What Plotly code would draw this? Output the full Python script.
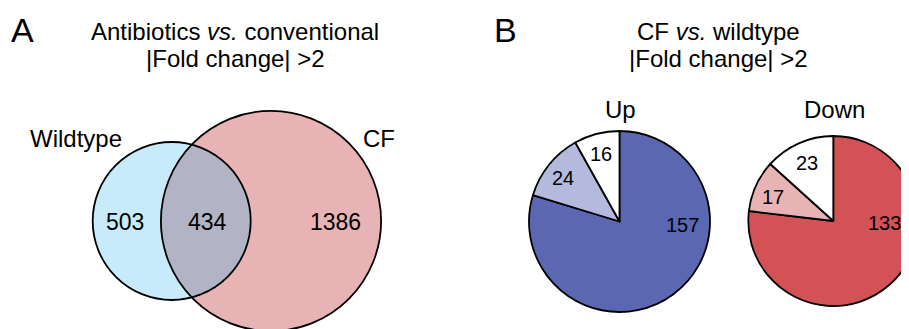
import numpy as np
import plotly.graph_objects as go

# ---------------- data ----------------
venn_sets = ["Wildtype", "CF"]
venn_only = [503, 1386]          # Wildtype only, CF only
venn_both = 434                  # shared

pie_up_labels = ["Up CF only", "Up shared A", "Up shared B"]
pie_up_values = [157, 24, 16]
pie_down_labels = ["Down CF only", "Down shared A", "Down shared B"]
pie_down_values = [133, 17, 23]

up_colors = ["#5b67b1", "#b3badd", "#ffffff"]
down_colors = ["#d35256", "#e8b3b4", "#ffffff"]

# ---------------- canvas ----------------
OFF = 8           # page body margin
W, H = 930, 329 - OFF
FONT = "Liberation Sans, Arial, sans-serif"

def px(x):
    return (x - OFF) / W

def py(y):
    return 1 - (y - OFF) / H

fig = go.Figure()

# invisible pixel-like axes (window pixel coordinates) for Venn and annotations
fig.update_xaxes(range=[OFF, W + OFF], visible=False, fixedrange=True)
fig.update_yaxes(range=[H + OFF, OFF], visible=False, fixedrange=True)
fig.add_trace(go.Scatter(x=[OFF], y=[OFF], mode="markers", marker=dict(opacity=0),
                         showlegend=False, hoverinfo="skip"))

# ---------------- Venn (area proportional) ----------------
tot_wt = venn_only[0] + venn_both
tot_cf = venn_only[1] + venn_both
k = 79 / np.sqrt(tot_wt)
r1 = k * np.sqrt(tot_wt)
r2 = k * np.sqrt(tot_cf)
c1 = (171.7, 221.0)
c2 = (271.0, 221.0)

fig.add_shape(type="circle", xref="x", yref="y",
              x0=c1[0] - r1, x1=c1[0] + r1, y0=c1[1] - r1, y1=c1[1] + r1,
              fillcolor="#c7ebfa", line=dict(width=0))
fig.add_shape(type="circle", xref="x", yref="y",
              x0=c2[0] - r2, x1=c2[0] + r2, y0=c2[1] - r2, y1=c2[1] + r2,
              fillcolor="#e8b3b4", line=dict(width=0))

# lens (intersection) from the two circles
d = c2[0] - c1[0]
a = (d**2 + r1**2 - r2**2) / (2 * d)
h = np.sqrt(r1**2 - a**2)
ang1 = np.arctan2(h, a)
ang2 = np.arctan2(h, d - a)
t1 = np.linspace(-ang1, ang1, 80)
p1x = c1[0] + r1 * np.cos(t1)
p1y = c1[1] + r1 * np.sin(t1)
t2b = np.linspace(np.pi + ang2, np.pi - ang2, 80)
p2x = c2[0] + r2 * np.cos(t2b)
p2y = c2[1] - r2 * np.sin(t2b)
lx = np.concatenate([p1x, p2x])
ly = np.concatenate([p1y, p2y])
path = "M " + " L ".join(f"{x:.2f},{y:.2f}" for x, y in zip(lx, ly)) + " Z"
fig.add_shape(type="path", xref="x", yref="y", path=path,
              fillcolor="#b2b4c5", line=dict(width=0))

for c, r in [(c1, r1), (c2, r2)]:
    fig.add_shape(type="circle", xref="x", yref="y",
                  x0=c[0] - r, x1=c[0] + r, y0=c[1] - r, y1=c[1] + r,
                  fillcolor="rgba(0,0,0,0)", line=dict(color="black", width=1.8))

# ---------------- Pies ----------------
up_c = (619.5, 221.5, 90.5)
dn_c = (833.3, 221.0, 85.0)

def dom(c):
    cx, cy, r = c
    return dict(x=[px(cx - r), px(cx + r)], y=[py(cy + r), py(cy - r)])

fig.add_trace(go.Pie(labels=pie_up_labels, values=pie_up_values, sort=False,
                     direction="clockwise", rotation=0, domain=dom(up_c),
                     marker=dict(colors=up_colors, line=dict(color="black", width=1.8)),
                     textinfo="none", hoverinfo="label+value", showlegend=False))
fig.add_trace(go.Pie(labels=pie_down_labels, values=pie_down_values, sort=False,
                     direction="clockwise", rotation=0, domain=dom(dn_c),
                     marker=dict(colors=down_colors, line=dict(color="black", width=1.8)),
                     textinfo="none", hoverinfo="label+value", showlegend=False))

# ---------------- text ----------------
def txt(x, y, s, size, **kw):
    fig.add_annotation(x=x, y=y, xref="x", yref="y", text=s, showarrow=False,
                       font=dict(family=FONT, size=size, color="black"),
                       xanchor="center", yanchor="middle", **kw)

txt(22.5, 30, "A", 34)
txt(505, 30, "B", 34)
txt(235, 31, "Antibiotics <i>vs.</i> conventional", 24)
txt(235, 58, "|Fold change| >2", 24)
txt(718, 31, "CF <i>vs.</i> wildtype", 24)
txt(718, 58, "|Fold change| >2", 24)

txt(76, 138, venn_sets[0], 24)
txt(379, 138, venn_sets[1], 24)
txt(125, 222, str(venn_only[0]), 23)
txt(207, 222, str(venn_both), 23)
txt(335, 222, str(venn_only[1]), 23)

txt(620, 109, "Up", 24)
txt(834, 109, "Down", 24)

up_pos = [(682.7, 225), (563, 178), (600.7, 154)]
for (x, y), v in zip(up_pos, pie_up_values):
    txt(x, y, str(v), 20)
dn_pos = [(884, 223), (772.7, 197), (807, 163)]
for (x, y), v in zip(dn_pos, pie_down_values):
    txt(x, y, str(v), 20)

fig.update_layout(width=W, height=H, margin=dict(l=0, r=0, t=0, b=0),
                  paper_bgcolor="white", plot_bgcolor="white",
                  showlegend=False)

fig.write_html("out.html")
